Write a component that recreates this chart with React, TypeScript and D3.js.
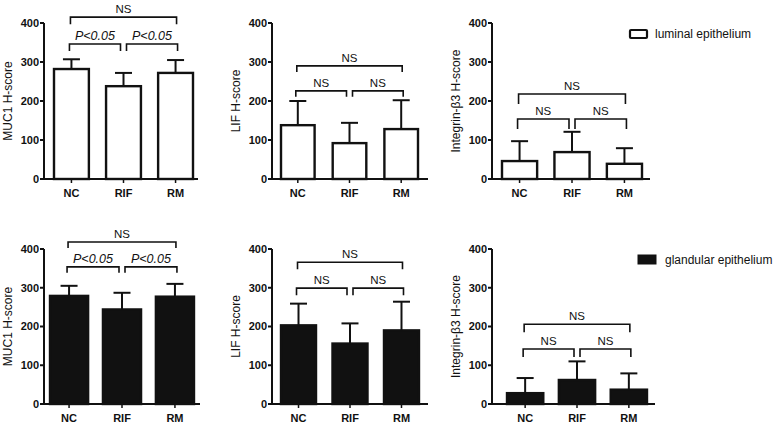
import React from 'react';
import * as d3 from 'd3';

// ---------- DATA ----------
const categories = ['NC', 'RIF', 'RM'];
const yTicks = [0, 100, 200, 300, 400];

// luminal epithelium (mean, SD)
const lumMUC1Mean = [282, 238, 272];
const lumMUC1Sd = [25, 34, 33];
const lumLIFMean = [138, 92, 128];
const lumLIFSd = [62, 52, 74];
const lumITGMean = [46, 69, 39];
const lumITGSd = [51, 52, 40];

// glandular epithelium (mean, SD)
const glaMUC1Mean = [279, 244, 277];
const glaMUC1Sd = [26, 43, 33];
const glaLIFMean = [203, 156, 190];
const glaLIFSd = [56, 52, 74];
const glaITGMean = [28, 62, 37];
const glaITGSd = [39, 48, 42];

// comparisons: pairs, labels, bracket height (in H-score units)
const comparePairs: [number, number][] = [[0, 1], [1, 2], [0, 2]];
const muc1Labels = ['P<0.05', 'P<0.05', 'NS'];
const nsLabels = ['NS', 'NS', 'NS'];
const lumMUC1Levels = [346, 346, 415];
const lumLIFLevels = [226, 226, 290];
const lumITGLevels = [154, 154, 218];
const glaMUC1Levels = [354, 354, 418];
const glaLIFLevels = [299, 299, 366];
const glaITGLevels = [142, 142, 206];

const yLabels = ['MUC1 H-score', 'LIF H-score', 'Integrin-β3 H-score'];
const legendLabels = ['luminal epithelium', 'glandular epithelium'];

// ---------- LAYOUT ----------
const FONT = '"Liberation Sans", Arial, Helvetica, sans-serif';

type PanelCfg = {
  mean: number[]; sd: number[]; labels: string[]; levels: number[]; yLabel: string;
  filled: boolean; axisX: number; xEnd: number; b0: number; b1: number; pad: number;
  y0: number; y1: number; drop: number;
};

const rowTop = { y0: 179, y1: 23, filled: false };
const rowBot = { y0: 404, y1: 249, filled: true };

const panels: PanelCfg[] = [
  { ...rowTop, mean: lumMUC1Mean, sd: lumMUC1Sd, labels: muc1Labels, levels: lumMUC1Levels, yLabel: yLabels[0], axisX: 44, xEnd: 198, b0: 54, b1: 193, pad: 0.33, drop: 7 },
  { ...rowTop, mean: lumLIFMean, sd: lumLIFSd, labels: nsLabels, levels: lumLIFLevels, yLabel: yLabels[1], axisX: 272, xEnd: 428, b0: 281, b1: 418, pad: 0.35, drop: 6 },
  { ...rowTop, mean: lumITGMean, sd: lumITGSd, labels: nsLabels, levels: lumITGLevels, yLabel: yLabels[2], axisX: 492, xEnd: 650, b0: 502, b1: 642, pad: 0.33, drop: 10 },
  { ...rowBot, mean: glaMUC1Mean, sd: glaMUC1Sd, labels: muc1Labels, levels: glaMUC1Levels, yLabel: yLabels[0], axisX: 44, xEnd: 200, b0: 50, b1: 194, pad: 0.28, drop: 6 },
  { ...rowBot, mean: glaLIFMean, sd: glaLIFSd, labels: nsLabels, levels: glaLIFLevels, yLabel: yLabels[1], axisX: 272, xEnd: 428, b0: 281, b1: 419, pad: 0.32, drop: 7 },
  { ...rowBot, mean: glaITGMean, sd: glaITGSd, labels: nsLabels, levels: glaITGLevels, yLabel: yLabels[2], axisX: 492, xEnd: 655, b0: 507, b1: 647, pad: 0.3, drop: 8 },
];

function Panel({ p }: { p: PanelCfg }) {
  const y = d3.scaleLinear().domain([0, 400]).range([p.y0, p.y1]);
  const x = d3.scaleBand<string>().domain(categories).range([p.b0, p.b1]).paddingInner(p.pad).paddingOuter(0);
  const bw = x.bandwidth();
  const cx = (i: number) => (x(categories[i]) as number) + bw / 2;
  const cap = 17;
  const col = '#111';
  const midY = (p.y0 + p.y1) / 2;

  return (
    <g>
      {/* bars */}
      {categories.map((c, i) => (
        <rect key={'b' + c} x={x(c)} y={y(p.mean[i])} width={bw} height={y(0) - y(p.mean[i])}
          fill={p.filled ? col : '#fff'} stroke={col} strokeWidth={2.4} />
      ))}
      {/* error bars */}
      {categories.map((c, i) => (
        <g key={'e' + c} stroke={col} strokeWidth={2}>
          <line x1={cx(i)} x2={cx(i)} y1={y(p.mean[i])} y2={y(p.mean[i] + p.sd[i])} />
          <line x1={cx(i) - cap / 2} x2={cx(i) + cap / 2} y1={y(p.mean[i] + p.sd[i])} y2={y(p.mean[i] + p.sd[i])} />
        </g>
      ))}
      {/* axes */}
      <line x1={p.axisX} x2={p.axisX} y1={y(0) + 1} y2={y(400)} stroke={col} strokeWidth={2} />
      <line x1={p.axisX - 1} x2={p.xEnd} y1={y(0)} y2={y(0)} stroke={col} strokeWidth={2} />
      {yTicks.map(t => (
        <g key={'t' + t}>
          <line x1={p.axisX - 4} x2={p.axisX} y1={y(t)} y2={y(t)} stroke={col} strokeWidth={2} />
          <text x={p.axisX - 5} y={y(t)} dy="0.36em" textAnchor="end" fontFamily={FONT}
            fontWeight="bold" fontSize={11} fill={col}>{t}</text>
        </g>
      ))}
      {categories.map((c, i) => (
        <g key={'x' + c}>
          <line x1={cx(i)} x2={cx(i)} y1={y(0)} y2={y(0) + 4} stroke={col} strokeWidth={1.5} />
          <text x={cx(i)} y={y(0) + 14} dy="0.36em" textAnchor="middle" fontFamily={FONT}
            fontWeight="bold" fontSize={11} fill={col}>{c}</text>
        </g>
      ))}
      {/* y label */}
      <text transform={`translate(${p.axisX - 36},${midY}) rotate(-90)`} textAnchor="middle" dy="0.36em"
        fontFamily={FONT} fontSize={12} fill={col}>{p.yLabel}</text>
      {/* brackets */}
      {comparePairs.map(([a, b], k) => {
        const wide = b - a > 1;
        const xa = wide ? cx(a) - 1 : (a === 0 ? cx(a) - 2 : cx(a) + 3);
        const xb = wide ? cx(b) + 1 : (a === 0 ? cx(b) - 3 : cx(b) + 2);
        const yl = y(p.levels[k]);
        const italic = p.labels[k].startsWith('P');
        return (
          <g key={'br' + k}>
            <path d={`M${xa},${yl + p.drop}V${yl}H${xb}V${yl + p.drop}`} fill="none" stroke={col} strokeWidth={1.6} />
            <text x={(xa + xb) / 2} y={yl - 4} textAnchor="middle" fontFamily={FONT}
              fontSize={italic ? 12.5 : 11.5} fontStyle={italic ? 'italic' : 'normal'} fill={col}>{p.labels[k]}</text>
          </g>
        );
      })}
    </g>
  );
}

export default function App() {
  return (
    <svg width={778} height={423} style={{ position: 'absolute', left: 0, top: 0, background: '#fff' }}>
      <rect width={778} height={423} fill="#fff" />
      {panels.map((p, i) => <Panel key={i} p={p} />)}
      {/* legends */}
      <rect x={630} y={30} width={17} height={8} fill="#fff" stroke="#111" strokeWidth={2.2} rx={1} />
      <text x={655} y={34} dy="0.36em" fontFamily={FONT} fontSize={12} fill="#111">{legendLabels[0]}</text>
      <rect x={638} y={255} width={18} height={9} fill="#111" stroke="#111" strokeWidth={1} />
      <text x={665} y={259.5} dy="0.36em" fontFamily={FONT} fontSize={12} fill="#111">{legendLabels[1]}</text>
    </svg>
  );
}
